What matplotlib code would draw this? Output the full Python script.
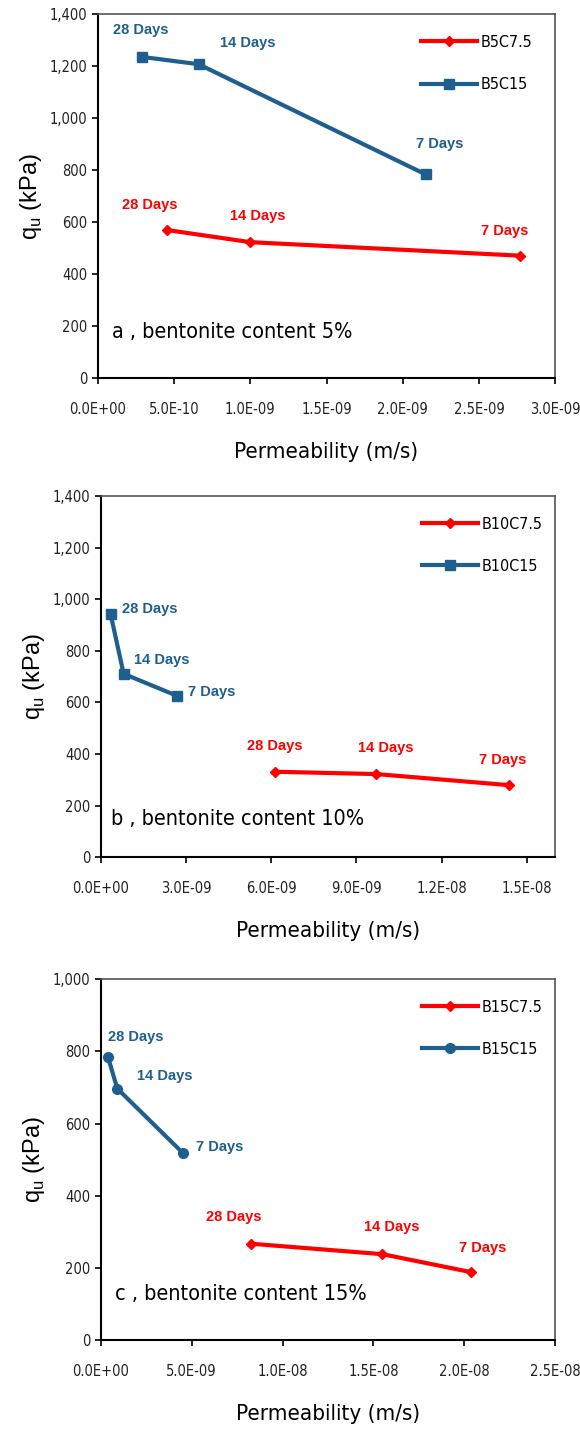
#!/usr/bin/env python3

"""
Unconfined compressive strength vs permeability, three bentonite contents
"""

import matplotlib
matplotlib.use("Agg")
import matplotlib.pyplot as plt
from matplotlib.ticker import FuncFormatter

RED = "#ff0000"
BLUE = "#1f5f8f"

days = ["28 Days", "14 Days", "7 Days"]

# panel a, bentonite 5%
a_c75_k = [0.45e-9, 1.00e-9, 2.77e-9]
a_c75_q = [570, 523, 471]
a_c15_k = [0.29e-9, 0.66e-9, 2.15e-9]
a_c15_q = [1236, 1208, 784]

# panel b, bentonite 10%
b_c75_k = [6.12e-9, 9.69e-9, 14.37e-9]
b_c75_q = [331, 322, 279]
b_c15_k = [0.34e-9, 0.80e-9, 2.69e-9]
b_c15_q = [943, 711, 625]

# panel c, bentonite 15%
c_c75_k = [8.26e-9, 15.5e-9, 20.4e-9]
c_c75_q = [267, 238, 188]
c_c15_k = [0.39e-9, 0.90e-9, 4.54e-9]
c_c15_q = [784, 697, 517]

panels = [
    dict(k75=a_c75_k, q75=a_c75_q, k15=a_c15_k, q15=a_c15_q,
         n75="B5C7.5", n15="B5C15", m15="s",
         xmax=3.0e-9, xstep=0.5e-9, ymax=1400, ystep=200,
         lab75=[(0.34e-9, 667), (1.05e-9, 623), (2.67e-9, 567)],
         lab15=[(0.28e-9, 1338), (0.98e-9, 1288), (2.24e-9, 902)],
         note="a , bentonite content 5%", note_xy=(0.09e-9, 176),
         rect=[0.169, 0.736, 0.788, 0.254]),
    dict(k75=b_c75_k, q75=b_c75_q, k15=b_c15_k, q15=b_c15_q,
         n75="B10C7.5", n15="B10C15", m15="s",
         xmax=1.6e-8, xstep=3.0e-9, ymax=1400, ystep=200,
         lab75=[(6.12e-9, 430), (10.03e-9, 423), (14.16e-9, 377)],
         lab15=[(1.73e-9, 963), (2.14e-9, 764), (3.91e-9, 640)],
         note="b , bentonite content 10%", note_xy=(0.34e-9, 149),
         rect=[0.174, 0.4015, 0.783, 0.252]),
    dict(k75=c_c75_k, q75=c_c75_q, k15=c_c15_k, q15=c_c15_q,
         n75="B15C7.5", n15="B15C15", m15="o",
         xmax=2.5e-8, xstep=5.0e-9, ymax=1000, ystep=200,
         lab75=[(7.32e-9, 342), (16.0e-9, 312), (21.0e-9, 255)],
         lab15=[(1.94e-9, 841), (3.5e-9, 731), (6.52e-9, 535)],
         note="c , bentonite content 15%", note_xy=(0.78e-9, 129),
         rect=[0.174, 0.0642, 0.783, 0.252]),
]


def sci(v, pos):
    s = "%.1E" % v
    mant, ex = s.split("E")
    return mant + "E" + ex[0] + ex[1:].zfill(2)


fig = plt.figure(figsize=(5.8, 14.32), dpi=100)

for p in panels:
    ax = fig.add_axes(p["rect"])
    ax.plot(p["k75"], p["q75"], color=RED, lw=3, marker="D", ms=5,
            label=p["n75"])
    ax.plot(p["k15"], p["q15"], color=BLUE, lw=3, marker=p["m15"], ms=7,
            label=p["n15"])

    for d, (x, y) in zip(days, p["lab75"]):
        ax.text(x, y, d, color=RED, fontsize=10.5, fontweight="bold",
                family="Liberation Sans", ha="center", va="center")
    for d, (x, y) in zip(days, p["lab15"]):
        ax.text(x, y, d, color=BLUE, fontsize=10.5, fontweight="bold",
                family="Liberation Sans", ha="center", va="center")

    ax.text(p["note_xy"][0], p["note_xy"][1], p["note"], fontsize=15.5,
            family="DejaVu Sans", fontstretch="condensed", va="center")

    ax.set_xlim(0, p["xmax"])
    ax.set_ylim(0, p["ymax"])
    ticks = []
    t = 0.0
    while t <= p["xmax"] * 1.0001:
        ticks.append(t)
        t += p["xstep"]
    ax.set_xticks(ticks)
    ax.set_yticks(range(0, p["ymax"] + 1, p["ystep"]))
    ax.xaxis.set_major_formatter(FuncFormatter(sci))
    ax.yaxis.set_major_formatter(FuncFormatter(lambda v, pos: "{:,.0f}".format(v)))
    ax.tick_params(direction="out", length=4, width=1.2, color="black",
                   labelsize=10.5)
    ax.tick_params(axis="x", pad=13)
    for lab in ax.get_xticklabels() + ax.get_yticklabels():
        lab.set_fontstretch("condensed")
        lab.set_color("#222222")
    for side in ["left", "bottom"]:
        ax.spines[side].set_linewidth(1.5)
        ax.spines[side].set_color("black")
    for side in ["top", "right"]:
        ax.spines[side].set_linewidth(1.2)
        ax.spines[side].set_color("#555555")

    ax.set_xlabel("Permeability (m/s)", fontsize=16, fontstretch="condensed",
                  labelpad=18)
    ax.set_ylabel(r"q$_\mathregular{u}$ (kPa)", fontsize=17,
                  family="Liberation Sans", labelpad=4)

    leg = ax.legend(loc="upper left", bbox_to_anchor=(0.69, 0.965),
                    frameon=False, handlelength=3.5, labelspacing=1.7,
                    borderpad=0, handletextpad=0.2,
                    prop=dict(size=11.5, stretch="condensed"))

fig.savefig("out.png", dpi=100)
plt.close(fig)
